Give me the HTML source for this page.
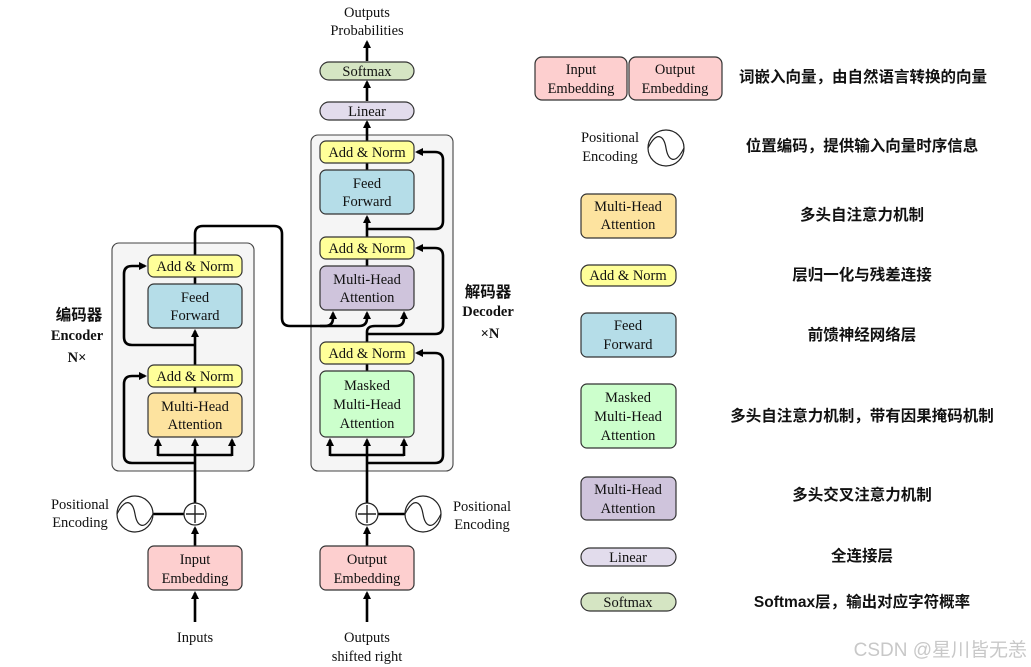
<!DOCTYPE html>
<html><head><meta charset="utf-8"><style>
html,body{margin:0;padding:0;background:#fff;}
svg{display:block;}
.t{font-family:"Liberation Serif",serif;font-size:14.5px;fill:#111;text-anchor:middle;}
.c{font-family:"Liberation Sans","Noto Sans CJK SC",sans-serif;font-size:15.5px;font-weight:bold;fill:#111;text-anchor:middle;}
.b{stroke:#333;stroke-width:1.2;}
.l{stroke:#000;stroke-width:2.6;fill:none;}
</style></head><body>
<svg width="1031" height="667" viewBox="0 0 1031 667" xmlns="http://www.w3.org/2000/svg">
<defs>
<marker id="a" markerWidth="8" markerHeight="8" refX="6" refY="4" orient="auto" markerUnits="userSpaceOnUse"><path d="M0,0 L8,4 L0,8 Z" fill="#000"/></marker>
</defs>
<rect x="112" y="243" width="142" height="228" rx="7" fill="#f5f5f5" stroke="#444" stroke-width="1.1"/>
<rect x="311" y="135" width="142" height="336" rx="7" fill="#f5f5f5" stroke="#444" stroke-width="1.1"/>

<line class="l" x1="195" y1="622" x2="195" y2="593" marker-end="url(#a)"/>
<line class="l" x1="195" y1="546" x2="195" y2="528" marker-end="url(#a)"/>
<line class="l" x1="195" y1="503" x2="195" y2="440" marker-end="url(#a)"/>
<line class="l" x1="153" y1="514" x2="184" y2="514"/>
<path class="l" d="M158,455 L232,455"/>
<line class="l" x1="158" y1="456" x2="158" y2="440" marker-end="url(#a)"/>
<line class="l" x1="232" y1="456" x2="232" y2="440" marker-end="url(#a)"/>
<path class="l" d="M195,463 L132,463 Q124,463 124,455 L124,384 Q124,376 132,376 L145,376" marker-end="url(#a)"/>
<line class="l" x1="195" y1="393" x2="195" y2="387"/>
<line class="l" x1="195" y1="365" x2="195" y2="331" marker-end="url(#a)"/>
<path class="l" d="M195,345 L132,345 Q124,345 124,337 L124,274 Q124,266 132,266 L145,266" marker-end="url(#a)"/>
<line class="l" x1="195" y1="284" x2="195" y2="277"/>
<path class="l" d="M195,255 L195,234 Q195,226 203,226 L274,226 Q282,226 282,234 L282,318 Q282,326 290,326 L325,326 Q333,326 333,318 L333,313" marker-end="url(#a)"/>
<path class="l" d="M320,326 L359,326 Q367,326 367,318 L367,313" marker-end="url(#a)"/>

<line class="l" x1="367" y1="622" x2="367" y2="593" marker-end="url(#a)"/>
<line class="l" x1="367" y1="546" x2="367" y2="528" marker-end="url(#a)"/>
<line class="l" x1="367" y1="503" x2="367" y2="440" marker-end="url(#a)"/>
<line class="l" x1="378" y1="514" x2="405" y2="514"/>
<path class="l" d="M330,455 L404,455"/>
<line class="l" x1="330" y1="456" x2="330" y2="440" marker-end="url(#a)"/>
<line class="l" x1="404" y1="456" x2="404" y2="440" marker-end="url(#a)"/>
<path class="l" d="M367,463 L435,463 Q443,463 443,455 L443,361 Q443,353 435,353 L417,353" marker-end="url(#a)"/>
<line class="l" x1="367" y1="371" x2="367" y2="364"/>
<path class="l" d="M367,342 L367,332 Q367,326 375,326 L396,326 Q404,326 404,318 L404,313" marker-end="url(#a)"/>
<path class="l" d="M367,334 L435,334 Q443,334 443,326 L443,256 Q443,248 435,248 L417,248" marker-end="url(#a)"/>
<line class="l" x1="367" y1="266" x2="367" y2="259"/>
<line class="l" x1="367" y1="237" x2="367" y2="217" marker-end="url(#a)"/>
<path class="l" d="M367,229 L435,229 Q443,229 443,221 L443,160 Q443,152 435,152 L417,152" marker-end="url(#a)"/>
<line class="l" x1="367" y1="170" x2="367" y2="163"/>
<line class="l" x1="367" y1="141" x2="367" y2="122" marker-end="url(#a)"/>
<line class="l" x1="367" y1="101" x2="367" y2="82" marker-end="url(#a)"/>
<line class="l" x1="367" y1="61" x2="367" y2="42" marker-end="url(#a)"/>

<rect class="b" x="148" y="255" width="94" height="22" rx="6" fill="#ffff99"/>
<text class="t" x="195" y="271">Add &amp; Norm</text>
<rect class="b" x="148" y="284" width="94" height="44" rx="6" fill="#b5dde8"/>
<text class="t" x="195" y="302">Feed</text><text class="t" x="195" y="320">Forward</text>
<rect class="b" x="148" y="365" width="94" height="22" rx="6" fill="#ffff99"/>
<text class="t" x="195" y="381">Add &amp; Norm</text>
<rect class="b" x="148" y="393" width="94" height="44" rx="6" fill="#fde39f"/>
<text class="t" x="195" y="411">Multi-Head</text><text class="t" x="195" y="429">Attention</text>
<rect class="b" x="148" y="546" width="94" height="44" rx="6" fill="#fdcfcf"/>
<text class="t" x="195" y="564">Input</text><text class="t" x="195" y="583">Embedding</text>
<circle cx="195" cy="514" r="11" fill="#fff" stroke="#222" stroke-width="1.2"/>
<path d="M195,505 V523 M186,514 H204" stroke="#222" stroke-width="1.4"/>
<circle cx="135" cy="514" r="18" fill="#fff" stroke="#222" stroke-width="1.2"/>
<path d="M117,514 C126,496 133,502 135,514 C137,526 144,532 153,514" fill="none" stroke="#222" stroke-width="1.2"/>
<text class="t" x="80" y="509">Positional</text><text class="t" x="80" y="527">Encoding</text>
<text class="t" x="195" y="642">Inputs</text>
<text class="c" x="79" y="320">编码器</text>
<text class="t" x="77" y="340" style="font-weight:bold">Encoder</text>
<text class="t" x="77" y="362" style="font-weight:bold">N×</text>

<rect class="b" x="320" y="141" width="94" height="22" rx="6" fill="#ffff99"/>
<text class="t" x="367" y="157">Add &amp; Norm</text>
<rect class="b" x="320" y="170" width="94" height="44" rx="6" fill="#b5dde8"/>
<text class="t" x="367" y="188">Feed</text><text class="t" x="367" y="206">Forward</text>
<rect class="b" x="320" y="237" width="94" height="22" rx="6" fill="#ffff99"/>
<text class="t" x="367" y="253">Add &amp; Norm</text>
<rect class="b" x="320" y="266" width="94" height="44" rx="6" fill="#cfc4dc"/>
<text class="t" x="367" y="284">Multi-Head</text><text class="t" x="367" y="302">Attention</text>
<rect class="b" x="320" y="342" width="94" height="22" rx="6" fill="#ffff99"/>
<text class="t" x="367" y="358">Add &amp; Norm</text>
<rect class="b" x="320" y="371" width="94" height="66" rx="6" fill="#ccffcc"/>
<text class="t" x="367" y="390">Masked</text><text class="t" x="367" y="409">Multi-Head</text><text class="t" x="367" y="428">Attention</text>
<rect class="b" x="320" y="102" width="94" height="18" rx="9" fill="#e2dcec"/>
<text class="t" x="367" y="116">Linear</text>
<rect class="b" x="320" y="62" width="94" height="18" rx="9" fill="#d5e5c3"/>
<text class="t" x="367" y="76">Softmax</text>
<text class="t" x="367" y="17">Outputs</text><text class="t" x="367" y="35">Probabilities</text>
<rect class="b" x="320" y="546" width="94" height="44" rx="6" fill="#fdcfcf"/>
<text class="t" x="367" y="564">Output</text><text class="t" x="367" y="583">Embedding</text>
<circle cx="367" cy="514" r="11" fill="#fff" stroke="#222" stroke-width="1.2"/>
<path d="M367,505 V523 M358,514 H376" stroke="#222" stroke-width="1.4"/>
<circle cx="423" cy="514" r="18" fill="#fff" stroke="#222" stroke-width="1.2"/>
<path d="M405,514 C414,496 421,502 423,514 C425,526 432,532 441,514" fill="none" stroke="#222" stroke-width="1.2"/>
<text class="t" x="482" y="511">Positional</text><text class="t" x="482" y="529">Encoding</text>
<text class="t" x="367" y="642">Outputs</text><text class="t" x="367" y="661">shifted right</text>
<text class="c" x="488" y="297">解码器</text>
<text class="t" x="488" y="316" style="font-weight:bold">Decoder</text>
<text class="t" x="490" y="338" style="font-weight:bold">×N</text>

<rect class="b" x="535" y="57" width="92" height="43" rx="7" fill="#fdcfcf"/>
<text class="t" x="581" y="74">Input</text><text class="t" x="581" y="93">Embedding</text>
<rect class="b" x="629" y="57" width="93" height="43" rx="7" fill="#fdcfcf"/>
<text class="t" x="675" y="74">Output</text><text class="t" x="675" y="93">Embedding</text>
<text class="c" x="863" y="82">词嵌入向量，由自然语言转换的向量</text>
<text class="t" x="610" y="142">Positional</text><text class="t" x="610" y="161">Encoding</text>
<circle cx="666" cy="148" r="18" fill="#fff" stroke="#222" stroke-width="1.2"/>
<path d="M648,148 C657,130 664,136 666,148 C668,160 675,166 684,148" fill="none" stroke="#222" stroke-width="1.2"/>
<text class="c" x="862" y="151">位置编码，提供输入向量时序信息</text>
<rect class="b" x="581" y="194" width="95" height="44" rx="6" fill="#fde39f"/>
<text class="t" x="628" y="211">Multi-Head</text><text class="t" x="628" y="229">Attention</text>
<text class="c" x="862" y="220">多头自注意力机制</text>
<rect class="b" x="581" y="265" width="95" height="21" rx="8" fill="#ffff99"/>
<text class="t" x="628" y="280">Add &amp; Norm</text>
<text class="c" x="862" y="280">层归一化与残差连接</text>
<rect class="b" x="581" y="313" width="95" height="44" rx="6" fill="#b5dde8"/>
<text class="t" x="628" y="330">Feed</text><text class="t" x="628" y="349">Forward</text>
<text class="c" x="862" y="340">前馈神经网络层</text>
<rect class="b" x="581" y="384" width="95" height="64" rx="6" fill="#ccffcc"/>
<text class="t" x="628" y="402">Masked</text><text class="t" x="628" y="421">Multi-Head</text><text class="t" x="628" y="440">Attention</text>
<text class="c" x="862" y="421">多头自注意力机制，带有因果掩码机制</text>
<rect class="b" x="581" y="477" width="95" height="43" rx="6" fill="#cfc4dc"/>
<text class="t" x="628" y="494">Multi-Head</text><text class="t" x="628" y="513">Attention</text>
<text class="c" x="862" y="500">多头交叉注意力机制</text>
<rect class="b" x="581" y="548" width="95" height="18" rx="9" fill="#e2dcec"/>
<text class="t" x="628" y="562">Linear</text>
<text class="c" x="862" y="561">全连接层</text>
<rect class="b" x="581" y="593" width="95" height="18" rx="9" fill="#d5e5c3"/>
<text class="t" x="628" y="607">Softmax</text>
<text class="c" x="862" y="607">Softmax层，输出对应字符概率</text>
<text x="1027" y="656" style="font-family:'Liberation Sans','Noto Sans CJK SC',sans-serif;font-size:19px;fill:#c8c8c8;text-anchor:end">CSDN @星川皆无恙</text>
</svg>
</body></html>
